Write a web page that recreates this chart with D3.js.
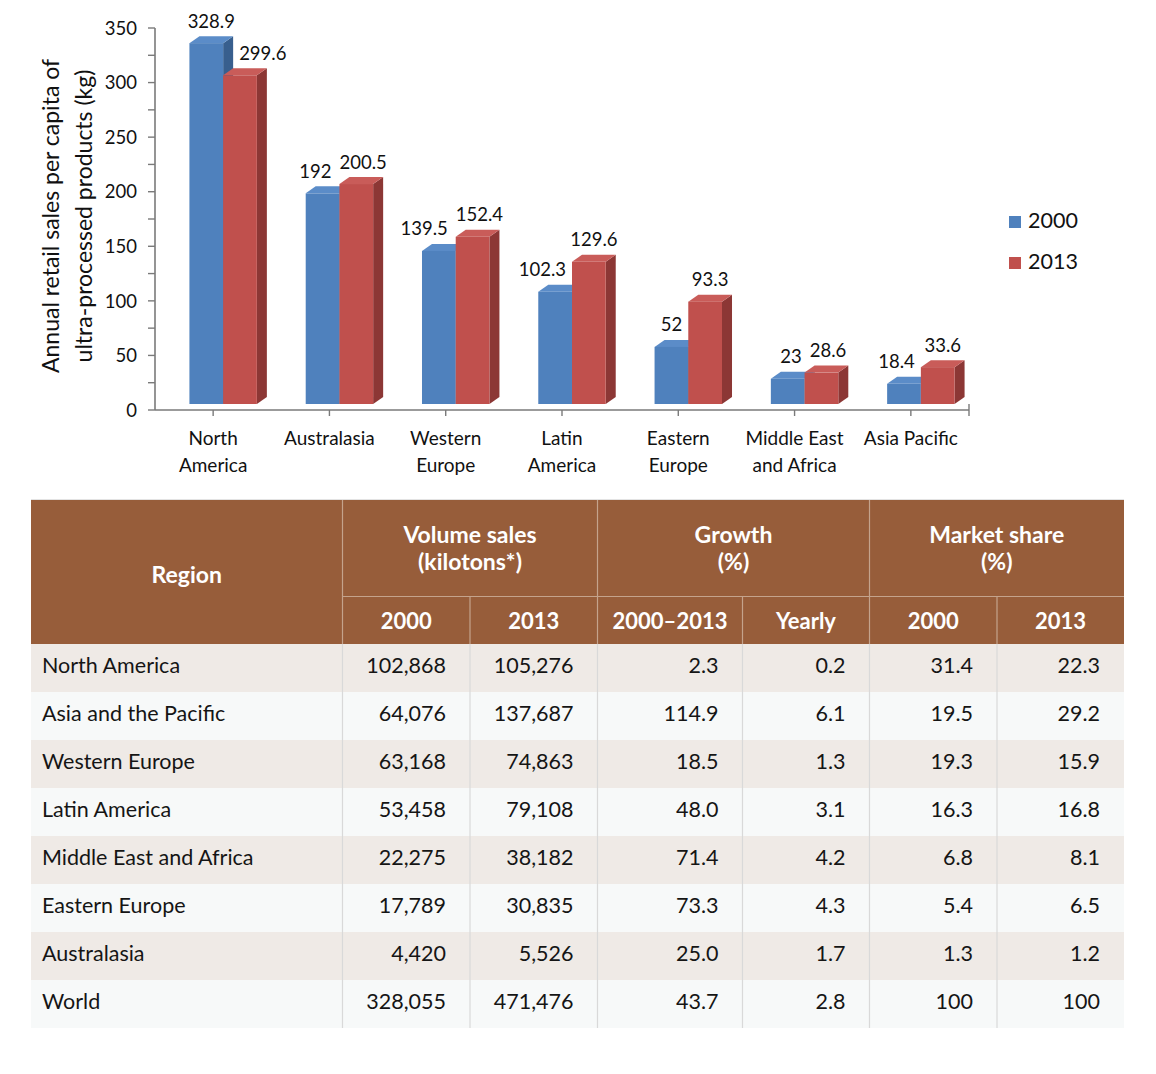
<!DOCTYPE html>
<html>
<head>
<meta charset="utf-8">
<script src="https://cdn.jsdelivr.net/npm/d3@7"></script>
<style>
  html, body { margin: 0; padding: 0; background: #ffffff; }
  svg { display: block; font-family: Lato, "Open Sans", sans-serif; }
</style>
</head>
<body>
<svg id="chart" width="1156" height="1074"></svg>
<script>
// ---------- chart data ----------
const categories = ["North America", "Australasia", "Western Europe", "Latin America", "Eastern Europe", "Middle East and Africa", "Asia Pacific"];
const categoryLines = [["North", "America"], ["Australasia"], ["Western", "Europe"], ["Latin", "America"], ["Eastern", "Europe"], ["Middle East", "and Africa"], ["Asia Pacific"]];
const seriesNames = ["2000", "2013"];
const values2000 = [328.9, 192, 139.5, 102.3, 52, 23, 18.4];
const values2013 = [299.6, 200.5, 152.4, 129.6, 93.3, 28.6, 33.6];
const yTickValues = [0, 50, 100, 150, 200, 250, 300, 350];
const yMinorTickValues = [25, 75, 125, 175, 225, 275, 325];
const yTitleLines = ["Annual retail sales per capita of", "ultra-processed products (kg)"];

// ---------- table data ----------
const tableRegions = ["North America", "Asia and the Pacific", "Western Europe", "Latin America", "Middle East and Africa", "Eastern Europe", "Australasia", "World"];
const volume2000 = [102868, 64076, 63168, 53458, 22275, 17789, 4420, 328055];
const volume2013 = [105276, 137687, 74863, 79108, 38182, 30835, 5526, 471476];
const growth2000to2013 = [2.3, 114.9, 18.5, 48.0, 71.4, 73.3, 25.0, 43.7];
const growthYearly = [0.2, 6.1, 1.3, 3.1, 4.2, 4.3, 1.7, 2.8];
const share2000 = [31.4, 19.5, 19.3, 16.3, 6.8, 5.4, 1.3, 100];
const share2013 = [22.3, 29.2, 15.9, 16.8, 8.1, 6.5, 1.2, 100];
const headerGroups = [["Region"], ["Volume sales", "(kilotons*)"], ["Growth", "(%)"], ["Market share", "(%)"]];
const subHeaders = ["2000", "2013", "2000\u20132013", "Yearly", "2000", "2013"];

// ---------- drawing ----------
const svg = d3.select("#chart");
svg.append("rect").attr("width", 1156).attr("height", 1074).attr("fill", "#fff");

const colors = {
  front: ["#4F81BD", "#C0504D"],
  top: ["#5B8CC8", "#C95C59"],
  side: ["#385F8E", "#8C3735"]
};

const axisX0 = 155, axisX1 = 969;
const x = d3.scaleBand().domain(categories).range([axisX0, axisX1]).padding(0);
const yAxisScale = d3.scaleLinear().domain([0, 350]).range([410, 28]);
const yBar = d3.scaleLinear().domain([0, 350]).range([404, 20]);
const depthX = 10, depthY = 7;
const bw = x.bandwidth();
const barW = bw * 0.29;
const barOffset = -bw * 0.204;

// y axis
const gy = svg.append("g").attr("transform", `translate(${axisX0},0)`);
gy.append("line").attr("x1", 0).attr("x2", 0).attr("y1", yAxisScale(350)).attr("y2", yAxisScale(0))
  .attr("stroke", "#7a7a7a").attr("stroke-width", 1.6);
gy.selectAll("line.tk").data(yTickValues.concat(yMinorTickValues)).join("line").attr("class", "tk")
  .attr("x1", -7).attr("x2", 0).attr("y1", d => yAxisScale(d)).attr("y2", d => yAxisScale(d))
  .attr("stroke", "#7a7a7a").attr("stroke-width", 1.4);
gy.selectAll("text").data(yTickValues).join("text")
  .attr("x", -18).attr("y", d => yAxisScale(d)).attr("dy", "0.36em")
  .attr("text-anchor", "end").attr("font-size", 18.5).attr("fill", "#111")
  .text(d => d);

// y title
yTitleLines.forEach((t, i) => {
  svg.append("text")
    .attr("transform", `translate(${51 + i * 33},216) rotate(-90)`)
    .attr("text-anchor", "middle").attr("dy", "0.36em")
    .attr("font-size", 23).attr("fill", "#111").text(t);
});

// x axis
const gx = svg.append("g");
gx.append("line").attr("x1", axisX0).attr("x2", axisX1).attr("y1", 410).attr("y2", 410)
  .attr("stroke", "#7a7a7a").attr("stroke-width", 1.6);
gx.selectAll("line.tk").data(categories).join("line").attr("class", "tk")
  .attr("x1", d => x(d) + bw / 2).attr("x2", d => x(d) + bw / 2).attr("y1", 410).attr("y2", 416)
  .attr("stroke", "#7a7a7a").attr("stroke-width", 1.4);
gx.append("line").attr("x1", axisX1).attr("x2", axisX1).attr("y1", 404).attr("y2", 416)
  .attr("stroke", "#7a7a7a").attr("stroke-width", 1.4);
gx.selectAll("text").data(categories).join("text")
  .attr("text-anchor", "middle").attr("font-size", 19).attr("fill", "#111")
  .each(function (d, i) {
    const t = d3.select(this);
    categoryLines[i].forEach((ln, j) => {
      t.append("tspan").attr("x", x(d) + bw / 2).attr("y", 445 + j * 26.5).text(ln);
    });
  });

// bars
const series = [values2000, values2013];
const bars = svg.append("g");
categories.forEach((cat, i) => {
  const c = x(cat) + bw / 2;
  series.forEach((vals, s) => {
    const v = vals[i];
    const x0 = c + barOffset + s * barW;
    const yt = yBar(v), yb = yBar(0);
    const g = bars.append("g");
    const side = [[x0 + barW, yt], [x0 + barW + depthX, yt - depthY], [x0 + barW + depthX, yb - depthY], [x0 + barW, yb]];
    const top = [[x0, yt], [x0 + depthX, yt - depthY], [x0 + barW + depthX, yt - depthY], [x0 + barW, yt]];
    g.append("polygon").attr("points", side.map(p => p.join(",")).join(" ")).attr("fill", colors.side[s]);
    g.append("polygon").attr("points", top.map(p => p.join(",")).join(" ")).attr("fill", colors.top[s]);
    g.append("rect").attr("x", x0).attr("y", yt).attr("width", barW).attr("height", yb - yt).attr("fill", colors.front[s]);
  });
});

// data labels with simple collision handling
const labelFont = 18.5;
const labels = svg.append("g").attr("font-size", labelFont).attr("fill", "#111").attr("text-anchor", "middle");
const measure = svg.append("text").attr("font-size", labelFont).attr("visibility", "hidden");
function textW(t) { measure.text(t); return measure.node().getComputedTextLength(); }
categories.forEach((cat, i) => {
  const c = x(cat) + bw / 2;
  const info = series.map((vals, s) => {
    const v = vals[i];
    const x0 = c + barOffset + s * barW;
    const backTop = yBar(v) - depthY;
    const txt = String(v);
    const w = textW(txt);
    return { v, x0, backTop, txt, w, cx: x0 + barW / 2 + depthX / 2, base: backTop - 8.5 };
  });
  const [b, r] = info;
  const gap = 6;
  if (b.base + 1 > r.backTop && b.cx + b.w / 2 > r.x0 - gap) b.cx = r.x0 - gap - b.w / 2;
  if (r.base + 1 > b.backTop && r.cx - r.w / 2 < b.x0 + barW + depthX + gap) r.cx = b.x0 + barW + depthX + gap + r.w / 2;
  if (Math.abs(b.base - r.base) < 16) {
    const ov = (b.cx + b.w / 2 + 8) - (r.cx - r.w / 2);
    if (ov > 0) { b.cx -= ov / 2; r.cx += ov / 2; }
  }
  info.forEach(d => labels.append("text").attr("x", d.cx).attr("y", d.base).text(d.txt));
});
measure.remove();

// legend
const legend = svg.append("g");
seriesNames.forEach((n, s) => {
  legend.append("rect").attr("x", 1009).attr("y", 216 + s * 41).attr("width", 12).attr("height", 12).attr("fill", colors.front[s]);
  legend.append("text").attr("x", 1028).attr("y", 228 + s * 41).attr("font-size", 21.5).attr("fill", "#111").text(n);
});

// ---------- table ----------
const colEdges = [31, 342.5, 470, 597.5, 742.5, 869.5, 997, 1124];
const headTop = 500, headMid = 596.5, headBottom = 644, rowH = 48;
const brown = "#975D3A", headLine = "#C4A38C";
const tbl = svg.append("g");
const rowY = d3.scaleLinear().domain([0, tableRegions.length]).range([headBottom, headBottom + rowH * tableRegions.length]);

tbl.append("rect").attr("x", colEdges[0]).attr("y", headTop).attr("width", colEdges[7] - colEdges[0]).attr("height", headBottom - headTop).attr("fill", brown);
tbl.append("line").attr("x1", colEdges[0]).attr("x2", colEdges[7]).attr("y1", headTop - 0.5).attr("y2", headTop - 0.5).attr("stroke", "#e3e3e3").attr("stroke-width", 1);

const fmtVol = d3.format(",");
const fmt1 = d3.format(".1f");
const fmtShare = v => v >= 100 ? d3.format("d")(v) : fmt1(v);
const rowsData = tableRegions.map((r, i) => [r, fmtVol(volume2000[i]), fmtVol(volume2013[i]), fmt1(growth2000to2013[i]), fmt1(growthYearly[i]), fmtShare(share2000[i]), fmtShare(share2013[i])]);

tbl.selectAll("rect.row").data(rowsData).join("rect").attr("class", "row")
  .attr("x", colEdges[0]).attr("y", (d, i) => rowY(i)).attr("width", colEdges[7] - colEdges[0]).attr("height", rowH)
  .attr("fill", (d, i) => i % 2 === 0 ? "#EFEAE6" : "#F7F9F9");

colEdges.slice(1, 7).forEach(xe => {
  tbl.append("line").attr("x1", xe).attr("x2", xe).attr("y1", headBottom).attr("y2", rowY(tableRegions.length))
    .attr("stroke", "#D9D9D9").attr("stroke-width", 1.2);
});
[colEdges[1], colEdges[3], colEdges[5]].forEach(xe => {
  tbl.append("line").attr("x1", xe).attr("x2", xe).attr("y1", headTop).attr("y2", headBottom).attr("stroke", headLine).attr("stroke-width", 1.2);
});
[colEdges[2], colEdges[4], colEdges[6]].forEach(xe => {
  tbl.append("line").attr("x1", xe).attr("x2", xe).attr("y1", headMid).attr("y2", headBottom).attr("stroke", headLine).attr("stroke-width", 1.2);
});
tbl.append("line").attr("x1", colEdges[1]).attr("x2", colEdges[7]).attr("y1", headMid).attr("y2", headMid).attr("stroke", headLine).attr("stroke-width", 1.2);

// header text
const hdr = tbl.append("g").attr("fill", "#fff").attr("font-weight", 700).attr("text-anchor", "middle");
hdr.append("text").attr("x", (colEdges[0] + colEdges[1]) / 2).attr("y", 583).attr("font-size", 23).text(headerGroups[0][0]);
[[1, 3], [3, 5], [5, 7]].forEach(([a, b2], gi) => {
  headerGroups[gi + 1].forEach((ln, j) => {
    hdr.append("text").attr("x", (colEdges[a] + colEdges[b2]) / 2).attr("y", 543 + j * 26.5).attr("font-size", 23).text(ln);
  });
});
subHeaders.forEach((h, j) => {
  hdr.append("text").attr("x", (colEdges[j + 1] + colEdges[j + 2]) / 2).attr("y", 629).attr("font-size", 22).text(h);
});

// body text
const body = tbl.append("g").attr("font-size", 21.5).attr("fill", "#151515");
rowsData.forEach((row, i) => {
  row.forEach((cell, j) => {
    const t = body.append("text").attr("y", rowY(i) + 29).text(cell);
    if (j === 0) t.attr("x", colEdges[0] + 11);
    else t.attr("x", colEdges[j + 1] - 24).attr("text-anchor", "end");
  });
});
</script>
</body>
</html>
